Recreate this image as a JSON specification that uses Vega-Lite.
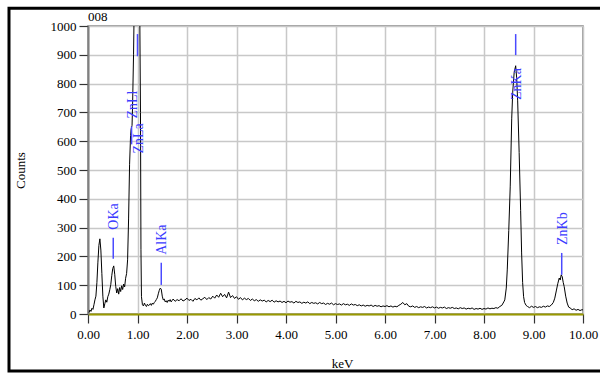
{
  "$schema": "https://vega.github.io/schema/vega-lite/v6.json",
  "width": 495,
  "height": 288,
  "autosize": "none",
  "padding": {"left": 88, "top": 26, "right": 17, "bottom": 59},
  "background": "white",
  "title": {"text": "008", "anchor": "start", "frame": "group", "font": "Liberation Serif", "fontSize": 13, "fontWeight": "normal", "color": "black", "offset": -17},
  "config": {
    "view": {"stroke": "#808080", "strokeWidth": 1.5},
    "axis": {"labelFont": "Liberation Serif", "titleFont": "Liberation Serif", "labelFontSize": 13, "titleFontSize": 13, "labelColor": "black", "titleColor": "black", "titleFontWeight": "normal", "gridColor": "#c8c8c8", "gridWidth": 1.5, "tickColor": "#333333", "tickSize": 9, "tickWidth": 1.2, "labelFlush": false, "labelOverlap": false, "labelBound": false}
  },
  "datasets": {
    "spectrum": [
      {"keV":0.02,"counts":5},{"keV":0.04,"counts":14},{"keV":0.06,"counts":9},{"keV":0.08,"counts":20},{"keV":0.10,"counts":16},{"keV":0.12,"counts":32},{"keV":0.14,"counts":49},{"keV":0.16,"counts":62},{"keV":0.18,"counts":110},{"keV":0.20,"counts":180},{"keV":0.22,"counts":238},{"keV":0.24,"counts":261},{"keV":0.26,"counts":222},{"keV":0.28,"counts":140},{"keV":0.30,"counts":62},{"keV":0.32,"counts":21},{"keV":0.34,"counts":36},{"keV":0.36,"counts":49},{"keV":0.38,"counts":41},{"keV":0.40,"counts":60},{"keV":0.42,"counts":69},{"keV":0.44,"counts":84},{"keV":0.46,"counts":102},{"keV":0.48,"counts":133},{"keV":0.50,"counts":158},{"keV":0.52,"counts":167},{"keV":0.54,"counts":138},{"keV":0.56,"counts":96},{"keV":0.58,"counts":73},{"keV":0.60,"counts":88},{"keV":0.62,"counts":69},{"keV":0.64,"counts":92},{"keV":0.66,"counts":78},{"keV":0.68,"counts":98},{"keV":0.70,"counts":85},{"keV":0.72,"counts":104},{"keV":0.74,"counts":94},{"keV":0.76,"counts":124},{"keV":0.78,"counts":141},{"keV":0.80,"counts":188},{"keV":0.82,"counts":330},{"keV":0.84,"counts":520},{"keV":0.86,"counts":620},{"keV":0.87,"counts":641},{"keV":0.88,"counts":648},{"keV":0.89,"counts":655},{"keV":0.90,"counts":720},{"keV":0.92,"counts":900},{"keV":0.94,"counts":1150},{"keV":0.96,"counts":1400},{"keV":0.98,"counts":1550},{"keV":1.00,"counts":1600},{"keV":1.02,"counts":1500},{"keV":1.04,"counts":1200},{"keV":1.06,"counts":700},{"keV":1.07,"counts":223},{"keV":1.08,"counts":60},
      {"keV":1.10,"counts":32},{"keV":1.12,"counts":28},{"keV":1.14,"counts":38},{"keV":1.16,"counts":30},{"keV":1.18,"counts":26},{"keV":1.20,"counts":34},{"keV":1.22,"counts":29},{"keV":1.24,"counts":31},{"keV":1.26,"counts":36},{"keV":1.28,"counts":30},{"keV":1.30,"counts":38},{"keV":1.32,"counts":34},{"keV":1.34,"counts":40},{"keV":1.36,"counts":44},{"keV":1.38,"counts":50},{"keV":1.40,"counts":56},{"keV":1.42,"counts":70},{"keV":1.44,"counts":82},{"keV":1.46,"counts":90},{"keV":1.48,"counts":86},{"keV":1.50,"counts":62},{"keV":1.52,"counts":49},{"keV":1.54,"counts":52},{"keV":1.56,"counts":42},{"keV":1.58,"counts":46},{"keV":1.60,"counts":40},{"keV":1.62,"counts":48},{"keV":1.64,"counts":44},{"keV":1.66,"counts":50},{"keV":1.68,"counts":42},{"keV":1.70,"counts":47},
      {"keV":1.72,"counts":52},{"keV":1.76,"counts":44},{"keV":1.80,"counts":50},{"keV":1.84,"counts":46},{"keV":1.88,"counts":53},{"keV":1.92,"counts":45},{"keV":1.96,"counts":49},{"keV":2.00,"counts":55},{"keV":2.04,"counts":47},{"keV":2.08,"counts":51},{"keV":2.12,"counts":44},{"keV":2.16,"counts":54},{"keV":2.20,"counts":49},{"keV":2.24,"counts":56},{"keV":2.28,"counts":48},{"keV":2.32,"counts":53},{"keV":2.36,"counts":58},{"keV":2.40,"counts":50},{"keV":2.44,"counts":57},{"keV":2.48,"counts":52},{"keV":2.52,"counts":62},{"keV":2.56,"counts":55},{"keV":2.60,"counts":66},{"keV":2.64,"counts":58},{"keV":2.68,"counts":72},{"keV":2.72,"counts":60},{"keV":2.76,"counts":68},{"keV":2.80,"counts":56},{"keV":2.84,"counts":76},{"keV":2.88,"counts":57},{"keV":2.92,"counts":64},{"keV":2.96,"counts":54},{"keV":3.00,"counts":60},{"keV":3.04,"counts":51},{"keV":3.08,"counts":57},{"keV":3.12,"counts":49},{"keV":3.16,"counts":55},{"keV":3.20,"counts":50},{"keV":3.24,"counts":54},{"keV":3.28,"counts":47},{"keV":3.32,"counts":52},{"keV":3.36,"counts":46},{"keV":3.40,"counts":50},{"keV":3.44,"counts":44},{"keV":3.48,"counts":49},{"keV":3.52,"counts":45},{"keV":3.56,"counts":48},{"keV":3.60,"counts":42},{"keV":3.64,"counts":47},{"keV":3.68,"counts":43},{"keV":3.72,"counts":48},{"keV":3.76,"counts":41},{"keV":3.80,"counts":46},{"keV":3.84,"counts":42},{"keV":3.88,"counts":45},{"keV":3.92,"counts":40},{"keV":3.96,"counts":44},{"keV":4.00,"counts":39},{"keV":4.04,"counts":45},{"keV":4.08,"counts":41},{"keV":4.12,"counts":43},{"keV":4.16,"counts":38},{"keV":4.20,"counts":44},{"keV":4.24,"counts":40},{"keV":4.28,"counts":42},{"keV":4.32,"counts":37},{"keV":4.36,"counts":41},{"keV":4.40,"counts":38},{"keV":4.44,"counts":42},{"keV":4.48,"counts":36},{"keV":4.52,"counts":40},{"keV":4.56,"counts":37},{"keV":4.60,"counts":39},{"keV":4.64,"counts":35},{"keV":4.68,"counts":40},{"keV":4.72,"counts":36},{"keV":4.76,"counts":38},{"keV":4.80,"counts":33},{"keV":4.84,"counts":37},{"keV":4.88,"counts":34},{"keV":4.92,"counts":38},{"keV":4.96,"counts":32},{"keV":5.00,"counts":36},{"keV":5.04,"counts":33},{"keV":5.08,"counts":35},{"keV":5.12,"counts":31},{"keV":5.16,"counts":36},{"keV":5.20,"counts":32},{"keV":5.24,"counts":34},{"keV":5.28,"counts":30},{"keV":5.32,"counts":35},{"keV":5.36,"counts":31},{"keV":5.40,"counts":33},{"keV":5.44,"counts":29},{"keV":5.48,"counts":32},{"keV":5.52,"counts":28},{"keV":5.56,"counts":31},{"keV":5.60,"counts":27},{"keV":5.64,"counts":30},{"keV":5.68,"counts":28},{"keV":5.72,"counts":31},{"keV":5.76,"counts":26},{"keV":5.80,"counts":30},{"keV":5.84,"counts":27},{"keV":5.88,"counts":29},{"keV":5.92,"counts":25},{"keV":5.96,"counts":28},{"keV":6.00,"counts":26},{"keV":6.04,"counts":29},{"keV":6.08,"counts":25},{"keV":6.12,"counts":28},{"keV":6.16,"counts":24},{"keV":6.20,"counts":27},{"keV":6.24,"counts":25},{"keV":6.28,"counts":30},{"keV":6.32,"counts":34},{"keV":6.36,"counts":40},{"keV":6.40,"counts":32},{"keV":6.44,"counts":36},{"keV":6.48,"counts":27},{"keV":6.52,"counts":25},{"keV":6.56,"counts":28},{"keV":6.60,"counts":23},{"keV":6.64,"counts":26},{"keV":6.68,"counts":22},{"keV":6.72,"counts":25},{"keV":6.76,"counts":23},{"keV":6.80,"counts":26},{"keV":6.84,"counts":21},{"keV":6.88,"counts":24},{"keV":6.92,"counts":22},{"keV":6.96,"counts":25},{"keV":7.00,"counts":21},{"keV":7.04,"counts":24},{"keV":7.08,"counts":20},{"keV":7.12,"counts":23},{"keV":7.16,"counts":21},{"keV":7.20,"counts":24},{"keV":7.24,"counts":19},{"keV":7.28,"counts":22},{"keV":7.32,"counts":20},{"keV":7.36,"counts":23},{"keV":7.40,"counts":19},{"keV":7.44,"counts":21},{"keV":7.48,"counts":18},{"keV":7.52,"counts":22},{"keV":7.56,"counts":19},{"keV":7.60,"counts":21},{"keV":7.64,"counts":17},{"keV":7.68,"counts":20},{"keV":7.72,"counts":18},{"keV":7.76,"counts":21},{"keV":7.80,"counts":16},{"keV":7.84,"counts":19},{"keV":7.88,"counts":17},{"keV":7.92,"counts":20},{"keV":7.96,"counts":16},{"keV":8.00,"counts":19},{"keV":8.04,"counts":17},{"keV":8.08,"counts":21},{"keV":8.12,"counts":18},{"keV":8.16,"counts":20},{"keV":8.20,"counts":19},{"keV":8.24,"counts":22},{"keV":8.28,"counts":20},{"keV":8.32,"counts":26},{"keV":8.36,"counts":30},{"keV":8.40,"counts":42},{"keV":8.42,"counts":49},{"keV":8.45,"counts":90},{"keV":8.47,"counts":153},{"keV":8.50,"counts":290},{"keV":8.53,"counts":444},{"keV":8.56,"counts":680},{"keV":8.58,"counts":770},{"keV":8.61,"counts":840},{"keV":8.64,"counts":862},{"keV":8.66,"counts":820},{"keV":8.68,"counts":740},{"keV":8.71,"counts":561},{"keV":8.74,"counts":360},{"keV":8.76,"counts":212},{"keV":8.78,"counts":110},{"keV":8.80,"counts":60},{"keV":8.82,"counts":40},{"keV":8.85,"counts":30},{"keV":8.88,"counts":26},{"keV":8.92,"counts":22},{"keV":8.96,"counts":27},{"keV":9.00,"counts":23},{"keV":9.04,"counts":26},{"keV":9.08,"counts":22},{"keV":9.12,"counts":25},{"keV":9.16,"counts":23},{"keV":9.20,"counts":27},{"keV":9.24,"counts":24},{"keV":9.28,"counts":28},{"keV":9.32,"counts":26},{"keV":9.36,"counts":31},{"keV":9.40,"counts":40},{"keV":9.43,"counts":55},{"keV":9.46,"counts":80},{"keV":9.49,"counts":105},{"keV":9.52,"counts":125},{"keV":9.54,"counts":118},{"keV":9.56,"counts":136},{"keV":9.58,"counts":130},{"keV":9.60,"counts":110},{"keV":9.62,"counts":95},{"keV":9.65,"counts":62},{"keV":9.68,"counts":38},{"keV":9.71,"counts":24},{"keV":9.74,"counts":21},{"keV":9.78,"counts":15},{"keV":9.82,"counts":18},{"keV":9.86,"counts":13},{"keV":9.90,"counts":16},{"keV":9.94,"counts":12},{"keV":9.98,"counts":15},{"keV":10.00,"counts":14}
    ],
    "markers": [
      {"line":"OKa","keV":0.51,"top":265,"bottom":192},
      {"line":"ZnLl","keV":0.88,"top":651,"bottom":589},
      {"line":"ZnLa","keV":1.00,"top":972,"bottom":895},
      {"line":"AlKa","keV":1.48,"top":178,"bottom":101},
      {"line":"ZnKa","keV":8.64,"top":972,"bottom":899},
      {"line":"ZnKb","keV":9.57,"top":212,"bottom":136}
    ]
  },
  "layer": [
    {
      "data": {"name": "spectrum"},
      "mark": {"type": "line", "color": "black", "strokeWidth": 1, "clip": true, "interpolate": "linear"},
      "encoding": {
        "x": {"field": "keV", "type": "quantitative", "title": "keV", "scale": {"domain": [0, 10], "nice": false, "zero": false},
          "axis": {"values": [0,1,2,3,4,5,6,7,8,9,10], "format": ".2f", "labelPadding": 5, "titlePadding": 16, "titleX": 254, "domainColor": "#999900", "domainWidth": 2, "grid": true}},
        "y": {"field": "counts", "type": "quantitative", "title": "Counts", "scale": {"domain": [0, 1000], "nice": false},
          "axis": {"values": [0,100,200,300,400,500,600,700,800,900,1000], "format": "d", "labelPadding": 3, "titleX": -68, "titleY": 144, "titleAngle": -90, "titleAlign": "center", "titleBaseline": "middle", "domainColor": "#808080", "domainWidth": 2, "grid": true}}
      }
    },
    {
      "data": {"name": "markers"},
      "mark": {"type": "rule", "color": "#4a4aff", "strokeWidth": 1.5},
      "encoding": {
        "x": {"field": "keV", "type": "quantitative", "title": "keV", "scale": {"domain": [0, 10], "nice": false, "zero": false},
          "axis": {"values": [0,1,2,3,4,5,6,7,8,9,10], "format": ".2f", "labelPadding": 5, "titlePadding": 16, "titleX": 254, "domainColor": "#999900", "domainWidth": 2, "grid": true}},
        "y": {"field": "top", "type": "quantitative", "title": "Counts", "scale": {"domain": [0, 1000], "nice": false},
          "axis": {"values": [0,100,200,300,400,500,600,700,800,900,1000], "format": "d", "labelPadding": 3, "titleX": -68, "titleY": 144, "titleAngle": -90, "titleAlign": "center", "titleBaseline": "middle", "domainColor": "#808080", "domainWidth": 2, "grid": true}},
        "y2": {"field": "bottom"}
      }
    },
    {
      "data": {"name": "markers"},
      "transform": [{"filter": "datum.line == 'OKa' || datum.line == 'AlKa' || datum.line == 'ZnKb' || datum.line == 'ZnLl'"}],
      "mark": {"type": "text", "angle": 270, "align": "left", "baseline": "middle", "dx": 8, "dy": 1, "font": "Liberation Serif", "fontSize": 14, "color": "#3c3cff"},
      "encoding": {
        "x": {"field": "keV", "type": "quantitative", "title": "keV", "scale": {"domain": [0, 10], "nice": false, "zero": false},
          "axis": {"values": [0,1,2,3,4,5,6,7,8,9,10], "format": ".2f", "labelPadding": 5, "titlePadding": 16, "titleX": 254, "domainColor": "#999900", "domainWidth": 2, "grid": true}},
        "y": {"field": "top", "type": "quantitative", "title": "Counts", "scale": {"domain": [0, 1000], "nice": false},
          "axis": {"values": [0,100,200,300,400,500,600,700,800,900,1000], "format": "d", "labelPadding": 3, "titleX": -68, "titleY": 144, "titleAngle": -90, "titleAlign": "center", "titleBaseline": "middle", "domainColor": "#808080", "domainWidth": 2, "grid": true}},
        "text": {"field": "line"}
      }
    },
    {
      "data": {"name": "markers"},
      "transform": [{"filter": "datum.line == 'ZnKa'"}],
      "mark": {"type": "text", "angle": 270, "align": "right", "baseline": "middle", "dx": -13, "dy": 1, "font": "Liberation Serif", "fontSize": 14, "color": "#3c3cff"},
      "encoding": {
        "x": {"field": "keV", "type": "quantitative", "title": "keV", "scale": {"domain": [0, 10], "nice": false, "zero": false},
          "axis": {"values": [0,1,2,3,4,5,6,7,8,9,10], "format": ".2f", "labelPadding": 5, "titlePadding": 16, "titleX": 254, "domainColor": "#999900", "domainWidth": 2, "grid": true}},
        "y": {"field": "bottom", "type": "quantitative", "title": "Counts", "scale": {"domain": [0, 1000], "nice": false},
          "axis": {"values": [0,100,200,300,400,500,600,700,800,900,1000], "format": "d", "labelPadding": 3, "titleX": -68, "titleY": 144, "titleAngle": -90, "titleAlign": "center", "titleBaseline": "middle", "domainColor": "#808080", "domainWidth": 2, "grid": true}},
        "text": {"field": "line"}
      }
    },
    {
      "data": {"name": "markers"},
      "transform": [{"filter": "datum.line == 'ZnLa'"}],
      "mark": {"type": "text", "angle": 270, "align": "right", "baseline": "middle", "dx": -67, "dy": 1, "font": "Liberation Serif", "fontSize": 14, "color": "#3c3cff"},
      "encoding": {
        "x": {"field": "keV", "type": "quantitative", "title": "keV", "scale": {"domain": [0, 10], "nice": false, "zero": false},
          "axis": {"values": [0,1,2,3,4,5,6,7,8,9,10], "format": ".2f", "labelPadding": 5, "titlePadding": 16, "titleX": 254, "domainColor": "#999900", "domainWidth": 2, "grid": true}},
        "y": {"field": "bottom", "type": "quantitative", "title": "Counts", "scale": {"domain": [0, 1000], "nice": false},
          "axis": {"values": [0,100,200,300,400,500,600,700,800,900,1000], "format": "d", "labelPadding": 3, "titleX": -68, "titleY": 144, "titleAngle": -90, "titleAlign": "center", "titleBaseline": "middle", "domainColor": "#808080", "domainWidth": 2, "grid": true}},
        "text": {"field": "line"}
      }
    },
    {
      "data": {"values": [{}]},
      "mark": {"type": "rect", "fill": "transparent", "stroke": "black", "strokeWidth": 3, "clip": false},
      "encoding": {
        "x": {"datum": -1.596, "type": "quantitative", "title": "keV", "scale": {"domain": [0, 10], "nice": false, "zero": false},
          "axis": {"values": [0,1,2,3,4,5,6,7,8,9,10], "format": ".2f", "labelPadding": 5, "titlePadding": 16, "titleX": 254, "domainColor": "#999900", "domainWidth": 2, "grid": true}},
        "x2": {"datum": 10.6},
        "y": {"datum": 1062, "type": "quantitative", "title": "Counts", "scale": {"domain": [0, 1000], "nice": false},
          "axis": {"values": [0,100,200,300,400,500,600,700,800,900,1000], "format": "d", "labelPadding": 3, "titleX": -68, "titleY": 144, "titleAngle": -90, "titleAlign": "center", "titleBaseline": "middle", "domainColor": "#808080", "domainWidth": 2, "grid": true}},
        "y2": {"datum": -198}
      }
    }
  ]
}
